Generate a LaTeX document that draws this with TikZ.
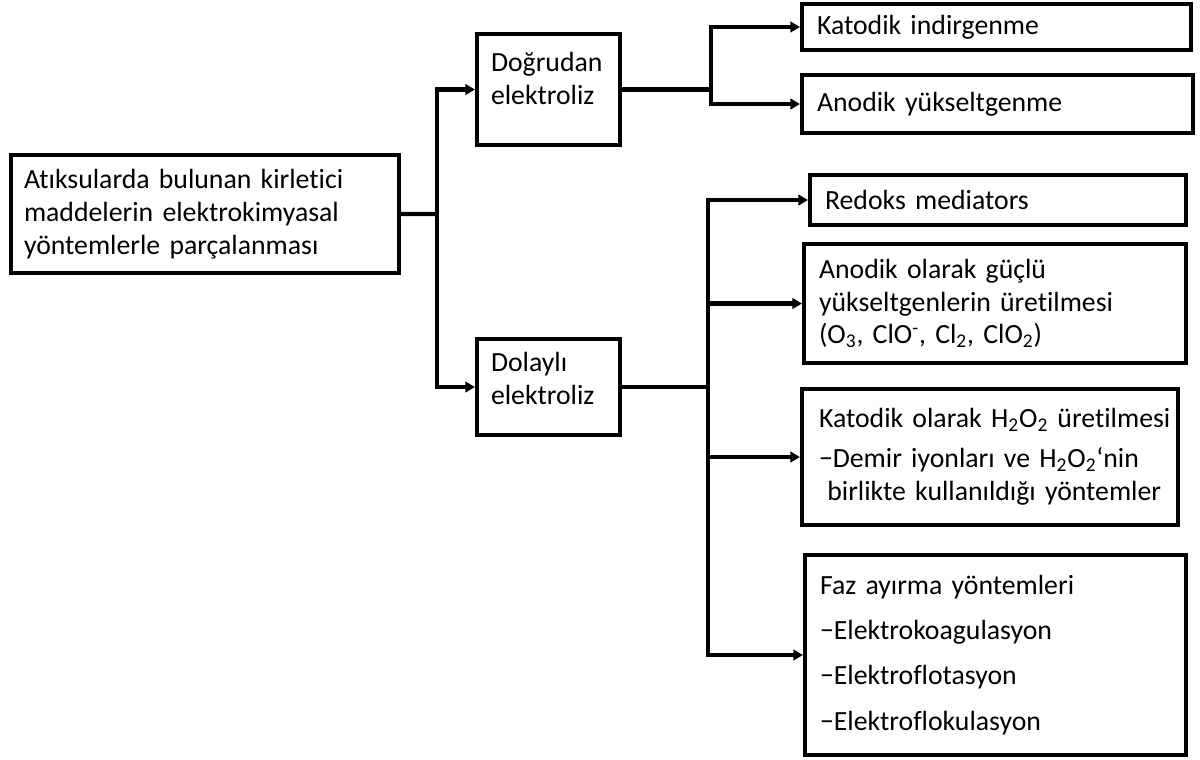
\documentclass[tikz,border=0pt]{standalone}
\usepackage{fontspec}
\setmainfont{Carlito}[Ligatures=NoCommon]
\usetikzlibrary{arrows.meta}
\usetikzlibrary{calc}

\tikzset{
	box/.style={draw, line width=2.3pt, anchor=north west, inner xsep=0.3cm, inner ysep=0pt, align=left},
	link/.style={line width=2.3pt},
	arr/.style={link, -{Triangle[length=5.5pt, width=6pt]}}
}

\begin{document}
\begin{tikzpicture}[x=0.02cm, y=-0.02cm, font=\fontsize{15.8}{18.7}\selectfont]
					\useasboundingbox (0,0) rectangle (1200,760);

					% Left part of the figure
					\node[box, inner xsep=0.26cm, minimum width=7.76cm, minimum height=2.36cm, text width=7.24cm] (main) at (9,153) {Atıksularda bulunan kirletici\\maddelerin elektrokimyasal\\yöntemlerle parçalanması};
					\node[box, inner xsep=0.28cm, minimum width=2.86cm, minimum height=2.22cm, text width=2.30cm] (dir) at (475,32) {\mbox{Doğrudan}\\\mbox{elektroliz}\rule[-0.45cm]{0pt}{0pt}};
					\node[box, inner xsep=0.28cm, minimum width=2.86cm, minimum height=1.92cm, text width=2.30cm] (ind) at (475,337) {\mbox{Dolaylı}\\\mbox{elektroliz}\rule[-0.35cm]{0pt}{0pt}};

					% Right part of the figure
					\node[box, minimum width=7.78cm, minimum height=0.92cm, text width=7.18cm] (kat) at (800,2) {Katodik indirgenme};
					\node[box, minimum width=7.82cm, minimum height=1.16cm, text width=7.22cm] (ano) at (800,73) {Anodik yükseltgenme};
					\node[box, minimum width=7.52cm, minimum height=1.0cm, text width=6.92cm] (red) at (808,173) {Redoks mediators};
					\node[box, minimum width=7.64cm, minimum height=2.38cm, text width=7.04cm] (anol) at (802,242) {Anodik olarak güçlü\\yükseltgenlerin üretilmesi\\(O\textsubscript{3}, ClO\textsuperscript{-}, Cl\textsubscript{2}, ClO\textsubscript{2})};
					\node[box, inner xsep=0.1cm, minimum width=7.52cm, minimum height=2.72cm, text width=7.32cm] (katol) at (800,387) {\hspace*{0.24cm}Katodik olarak H\textsubscript{2}O\textsubscript{2} üretilmesi\\[4pt]\hspace*{0.24cm}−Demir iyonları ve H\textsubscript{2}O\textsubscript{2}‘nin\\\hspace*{0.24cm}\hspace*{0.3em}birlikte kullanıldığı yöntemler};
					\node[box, minimum width=7.62cm, minimum height=4.0cm, text width=7.02cm] (faz) at (803,553) {Faz ayırma yöntemleri\\[7pt]−Elektrokoagulasyon\\[7pt]−Elektroflotasyon\\[7pt]−Elektroflokulasyon};

					% Branch points
					\coordinate (jn1) at (437,214);
					\path (dir.east) ++(89,0) coordinate (jn2);
					\path (ind.east) ++(86,0) coordinate (jn3);

					\draw[link] (main.east) -- (jn1);
					\draw[arr] (jn1) |- (dir.west);
					\draw[arr] (jn1) |- (ind.west);

					\draw[link] (dir.east) -- (jn2);
					\draw[arr] (jn2) |- (kat.west);
					\draw[arr] (jn2) |- (ano.west);

					\draw[link] (ind.east) -- (jn3);
					\draw[arr] (jn3) |- (red.west);
					\draw[arr] (jn3) |- (anol.west);
					\draw[arr] (jn3) |- (katol.west);
					\draw[arr] (jn3) |- (faz.west);
				\end{tikzpicture}
\end{document}
